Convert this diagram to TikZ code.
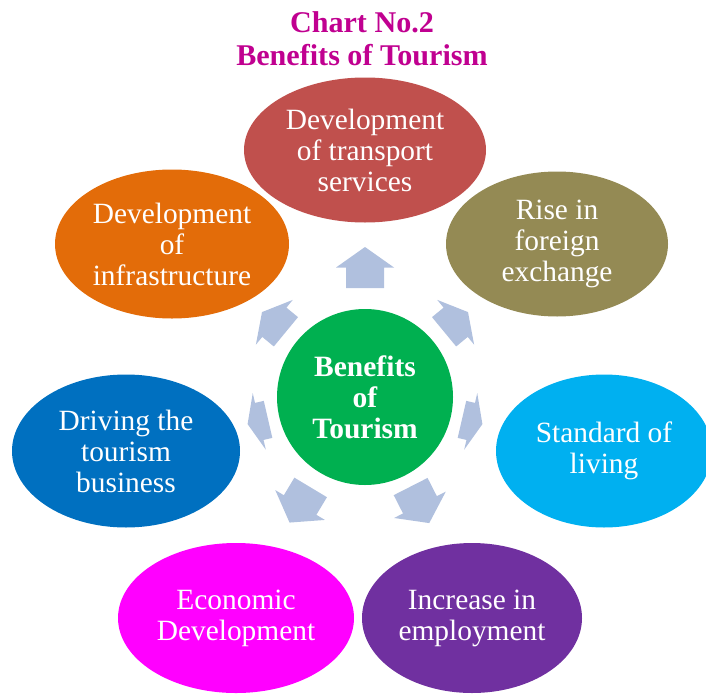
\documentclass[tikz,border=0pt]{standalone}
\usepackage{fontspec}
\setmainfont{Liberation Serif}
\usetikzlibrary{shapes.geometric}

\definecolor{titlecol}{RGB}{192,0,144}
\definecolor{transportcol}{RGB}{192,80,77}
\definecolor{infracol}{RGB}{227,108,9}
\definecolor{foreigncol}{RGB}{148,138,84}
\definecolor{livingcol}{RGB}{0,176,240}
\definecolor{drivingcol}{RGB}{0,112,192}
\definecolor{economiccol}{RGB}{255,0,255}
\definecolor{employcol}{RGB}{112,48,160}
\definecolor{hubcol}{RGB}{0,176,80}
\definecolor{arrowcol}{RGB}{176,192,222}

\tikzset{
  benefit/.style={ellipse, fill=#1, draw=none, inner sep=0pt, text=white,
    align=center, font=\fontsize{29.4}{31}\selectfont},
  hubnode/.style={circle, fill=hubcol, inner sep=0pt, minimum size=176pt,
    text=white, align=center, font=\bfseries\fontsize{29.5}{31}\selectfont},
  titlenode/.style={text=titlecol, align=center,
    font=\bfseries\fontsize{30.1}{33}\selectfont},
  blockarrow/.style={fill=arrowcol, draw=none}
}

\begin{document}
\begin{tikzpicture}[x=1pt, y=-1pt]
  \useasboundingbox (0,0) rectangle (706,693);

  % title
  \node[titlenode] (title) at (362,38.5) {Chart No.2\\Benefits of Tourism};

  % outer benefits
  \node[benefit=transportcol, minimum width=242pt, minimum height=145pt] (transport) at (365,150)
    {Development\\of transport\\services};
  \node[benefit=foreigncol, minimum width=222pt, minimum height=145pt] (foreign) at (557,244)
    {Rise in\\foreign\\exchange};
  \node[benefit=livingcol, minimum width=216pt, minimum height=153pt] (living) at (604,451)
    {Standard of\\living};
  \node[benefit=employcol, minimum width=220pt, minimum height=150pt] (employ) at (472,618)
    {Increase in\\employment};
  \node[benefit=economiccol, minimum width=236pt, minimum height=150pt] (economic) at (236,618)
    {Economic\\Development};
  \node[benefit=drivingcol, minimum width=228pt, minimum height=153pt] (driving) at (126,451)
    {Driving the\\tourism\\business};
  \node[benefit=infracol, minimum width=234pt, minimum height=149pt] (infra) at (172,244)
    {Development\\of\\infrastructure};

  % centre
  \node[hubnode] (hub) at (365,397) {Benefits\\of\\Tourism};

  % block arrows radiating from the centre:
  % direction / distance of the arrow's middle / length / head length
  \foreach \a/\m/\l/\h in {90/129.5/41/20.5, 39.5/118/31/16, -13/110/21/12,
                           -63/121/41/20.5, -121/126/41/20.5, -167/110/21/12,
                           140.5/118/31/16}{
    \fill[blockarrow, shift={(hub.center)}, rotate=\a]
      ({\m-\l/2},-19) -- ({\m+\l/2-\h},-19) -- ({\m+\l/2-\h},-29)
      -- ({\m+\l/2},0) -- ({\m+\l/2-\h},29) -- ({\m+\l/2-\h},19)
      -- ({\m-\l/2},19) -- cycle;
  }
\end{tikzpicture}
\end{document}
